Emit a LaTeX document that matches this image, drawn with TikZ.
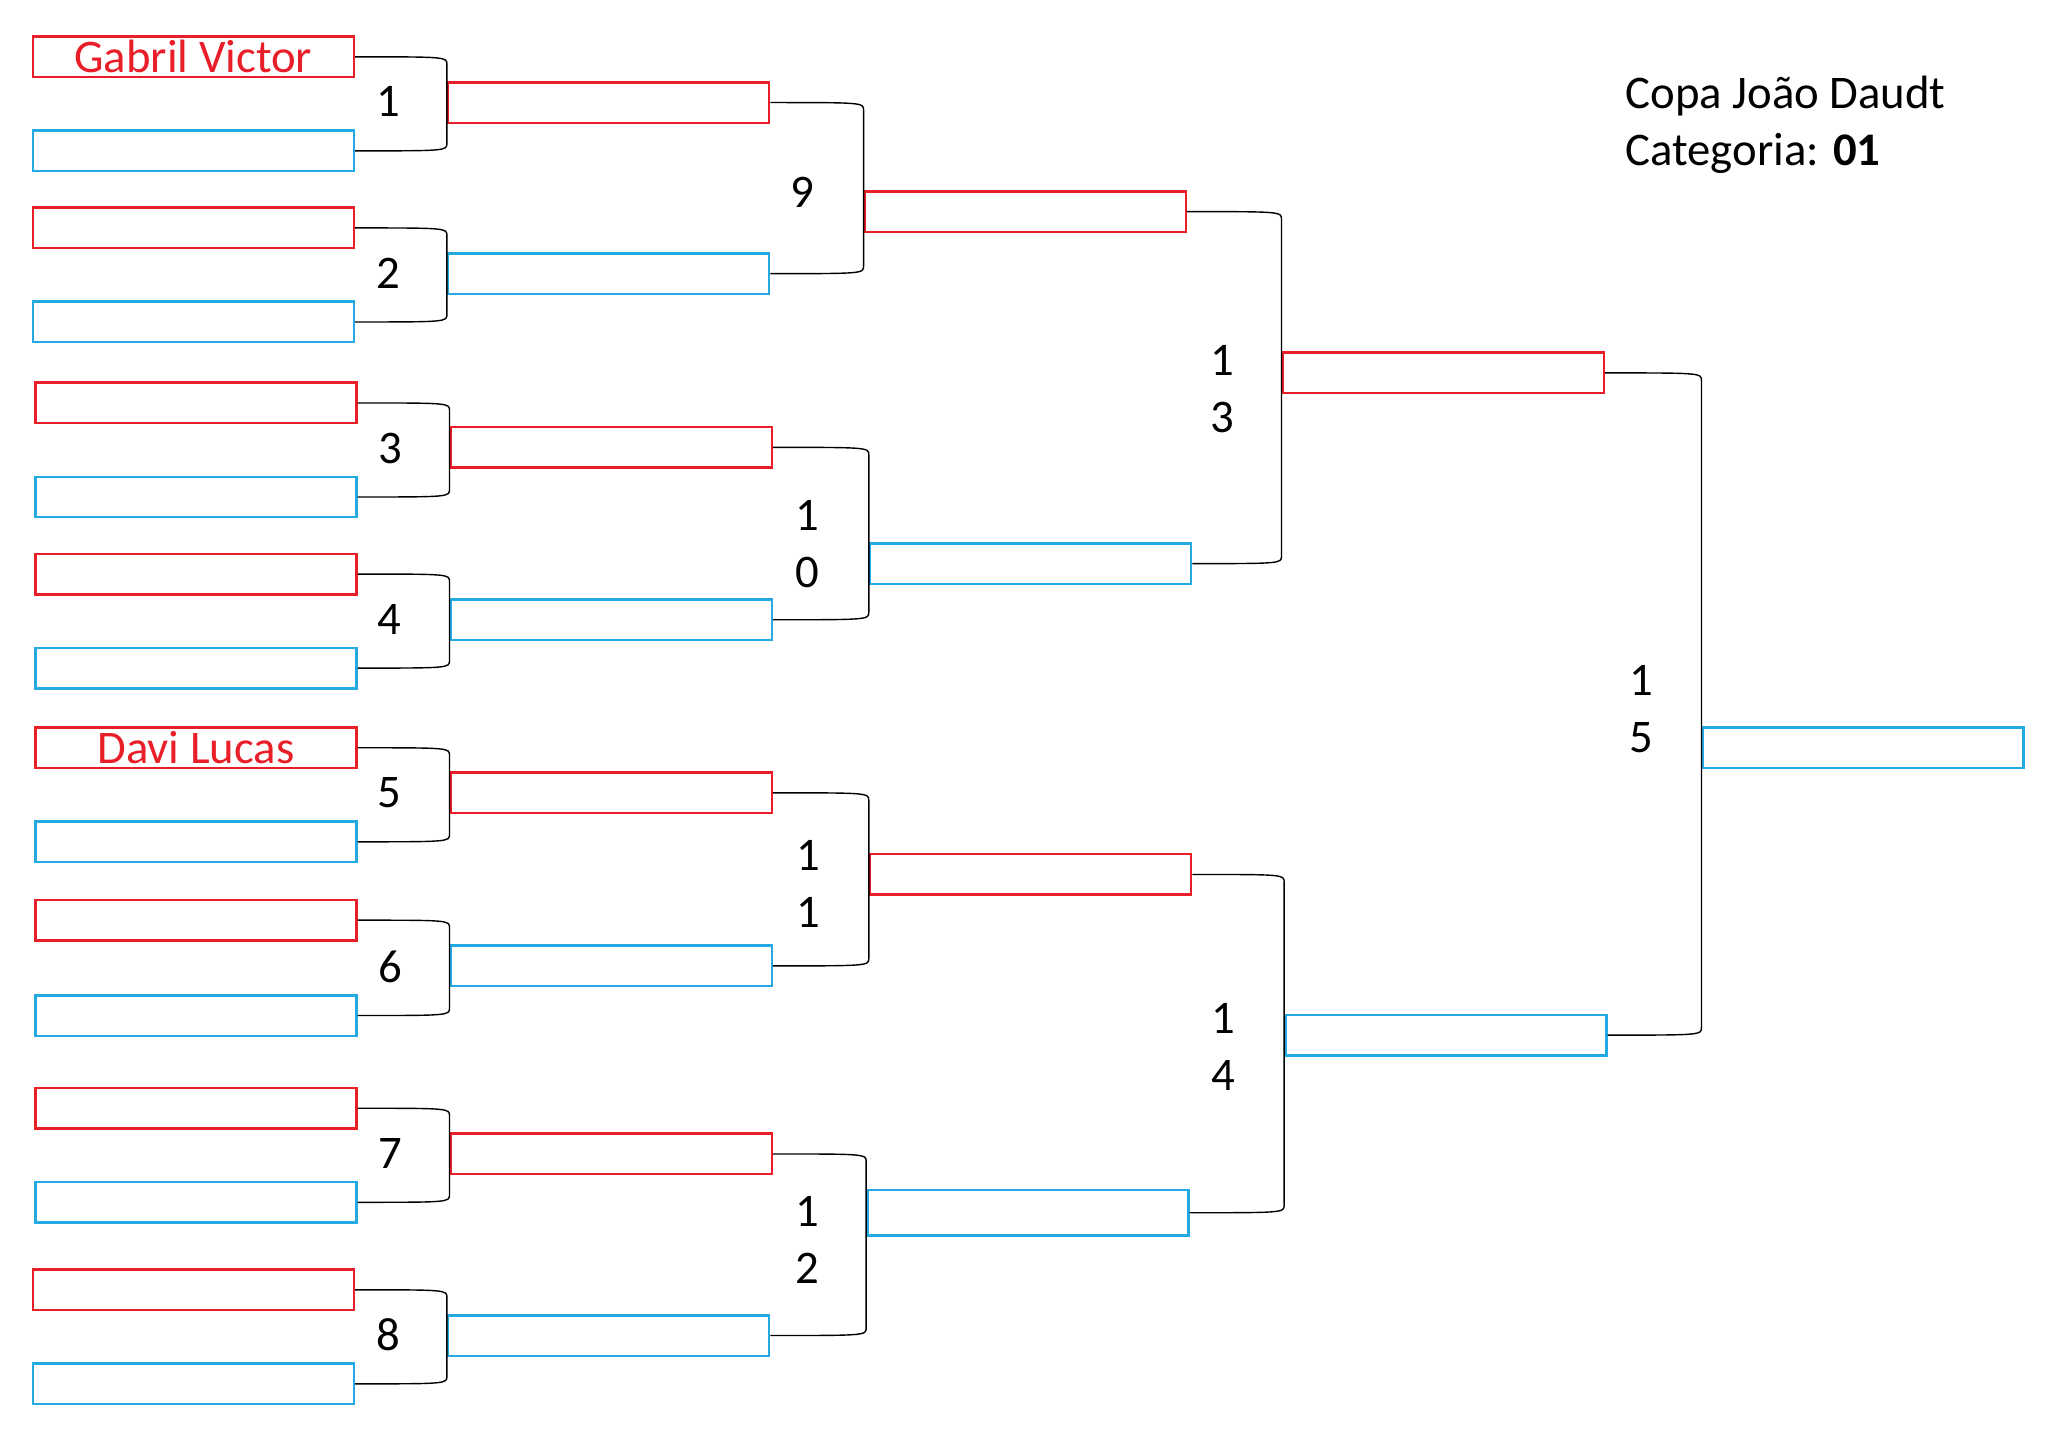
\documentclass[tikz,border=0pt]{standalone}
\usepackage{fontspec}
\setmainfont{Carlito}
\usepackage{tikz}
\usetikzlibrary{calc}
\definecolor{sideRed}{RGB}{232,30,40}
\definecolor{sideBlue}{RGB}{35,170,226}
\tikzset{
  redslot/.style={draw=sideRed, line width=0.7pt, minimum width=3.21cm, minimum height=0.405cm, inner sep=0pt, text=sideRed, font=\fontsize{13.3}{16.3}\selectfont},
  blueslot/.style={draw=sideBlue, line width=0.7pt, minimum width=3.21cm, minimum height=0.405cm, inner sep=0pt, text=sideBlue, font=\fontsize{13.3}{16.3}\selectfont},
  gameno/.style={align=center, inner sep=0pt, font=\fontsize{13.3}{16.3}\selectfont},
  heading/.style={anchor=base west, inner sep=0pt, font=\fontsize{13.3}{16.3}\selectfont},
  mlink/.style={draw=black, line width=0.4pt},
  bendin/.style={to path={let \p1=(\tikztostart), \p2=(\tikztotarget) in .. controls (\x2,\y1) .. (\x2,\y1-2.2pt) -- (\p2)}},
  bendout/.style={to path={let \p1=(\tikztostart), \p2=(\tikztotarget) in -- (\x1,\y2+2.2pt) .. controls (\x1,\y2) .. (\p2)}}
}
\begin{document}
\begin{tikzpicture}[x=0.0130612cm,y=-0.0130612cm]
\useasboundingbox (0,0) rectangle (1568,1109);
\node[redslot] (m1top) at (148,43.5) {Gabril Victor};
\node[blueslot] (m1bot) at (148,115.5) {};
\node[redslot] (m2top) at (148,174.5) {};
\node[blueslot] (m2bot) at (148,246.5) {};
\node[redslot] (m3top) at (150,308.5) {};
\node[blueslot] (m3bot) at (150,380.5) {};
\node[redslot] (m4top) at (150,439.5) {};
\node[blueslot] (m4bot) at (150,511.5) {};
\node[redslot] (m5top) at (150,572.5) {Davi Lucas};
\node[blueslot] (m5bot) at (150,644.5) {};
\node[redslot] (m6top) at (150,704.5) {};
\node[blueslot] (m6bot) at (150,777.5) {};
\node[redslot] (m7top) at (150,848.5) {};
\node[blueslot] (m7bot) at (150,920.5) {};
\node[redslot] (m8top) at (148,987.5) {};
\node[blueslot] (m8bot) at (148,1059.5) {};
\node[redslot] (w1) at (466,78.5) {};
\node[blueslot] (w2) at (466,209.5) {};
\node[redslot] (w3) at (468,342.5) {};
\node[blueslot] (w4) at (468,474.5) {};
\node[redslot] (w5) at (468,607) {};
\node[blueslot] (w6) at (468,739.5) {};
\node[redslot] (w7) at (468,883.5) {};
\node[blueslot] (w8) at (466,1022.5) {};
\node[redslot] (w9) at (785,162) {};
\node[blueslot] (w10) at (789,431.5) {};
\node[redslot] (w11) at (789,669.5) {};
\node[blueslot, minimum height=0.457cm] (w12) at (787,928.5) {};
\node[redslot] (w13) at (1105,285.5) {};
\node[blueslot] (w14) at (1107,792.5) {};
\node[blueslot] (champ) at (1426.5,572.5) {};
\node[gameno] (g1) at (297,78) {1};
\node[gameno] (g2) at (297,209) {2};
\node[gameno] (g3) at (299,343) {3};
\node[gameno] (g4) at (298,474) {4};
\node[gameno] (g5) at (298,607) {5};
\node[gameno] (g6) at (299,740) {6};
\node[gameno] (g7) at (299,883) {7};
\node[gameno] (g8) at (297,1022) {8};
\node[gameno] (g9) at (614,147) {9};
\node[gameno] (g10) at (618,416.5) {1\\0};
\node[gameno] (g11) at (619,676.5) {1\\1};
\node[gameno] (g12) at (618,949.5) {1\\2};
\node[gameno] (g13) at (936,298) {1\\3};
\node[gameno] (g14) at (937,801.5) {1\\4};
\node[gameno] (g15) at (1257,543) {1\\5};
\node[heading] (cup) at (1244,83) {Copa João Daudt};
\node[heading] (cat) at (1244,126.5) {Categoria: \textbf{01}};
\draw[mlink] (m1top.east) to[bendin] (w1.west) to[bendout] (m1bot.east);
\draw[mlink] (m2top.east) to[bendin] (w2.west) to[bendout] (m2bot.east);
\draw[mlink] (m3top.east) to[bendin] (w3.west) to[bendout] (m3bot.east);
\draw[mlink] (m4top.east) to[bendin] (w4.west) to[bendout] (m4bot.east);
\draw[mlink] (m5top.east) to[bendin] (w5.west) to[bendout] (m5bot.east);
\draw[mlink] (m6top.east) to[bendin] (w6.west) to[bendout] (m6bot.east);
\draw[mlink] (m7top.east) to[bendin] (w7.west) to[bendout] (m7bot.east);
\draw[mlink] (m8top.east) to[bendin] (w8.west) to[bendout] (m8bot.east);
\draw[mlink] (w1.east) to[bendin] (w9.west) to[bendout] (w2.east);
\draw[mlink] (w3.east) to[bendin] (w10.west) to[bendout] (w4.east);
\draw[mlink] (w5.east) to[bendin] (w11.west) to[bendout] (w6.east);
\draw[mlink] (w7.east) to[bendin] (w12.west) to[bendout] (w8.east);
\draw[mlink] (w9.east) to[bendin] (w13.west) to[bendout] (w10.east);
\draw[mlink] (w11.east) to[bendin] (w14.west) to[bendout] (w12.east);
\draw[mlink] (w13.east) to[bendin] (champ.west) to[bendout] (w14.east);
\end{tikzpicture}
\end{document}
